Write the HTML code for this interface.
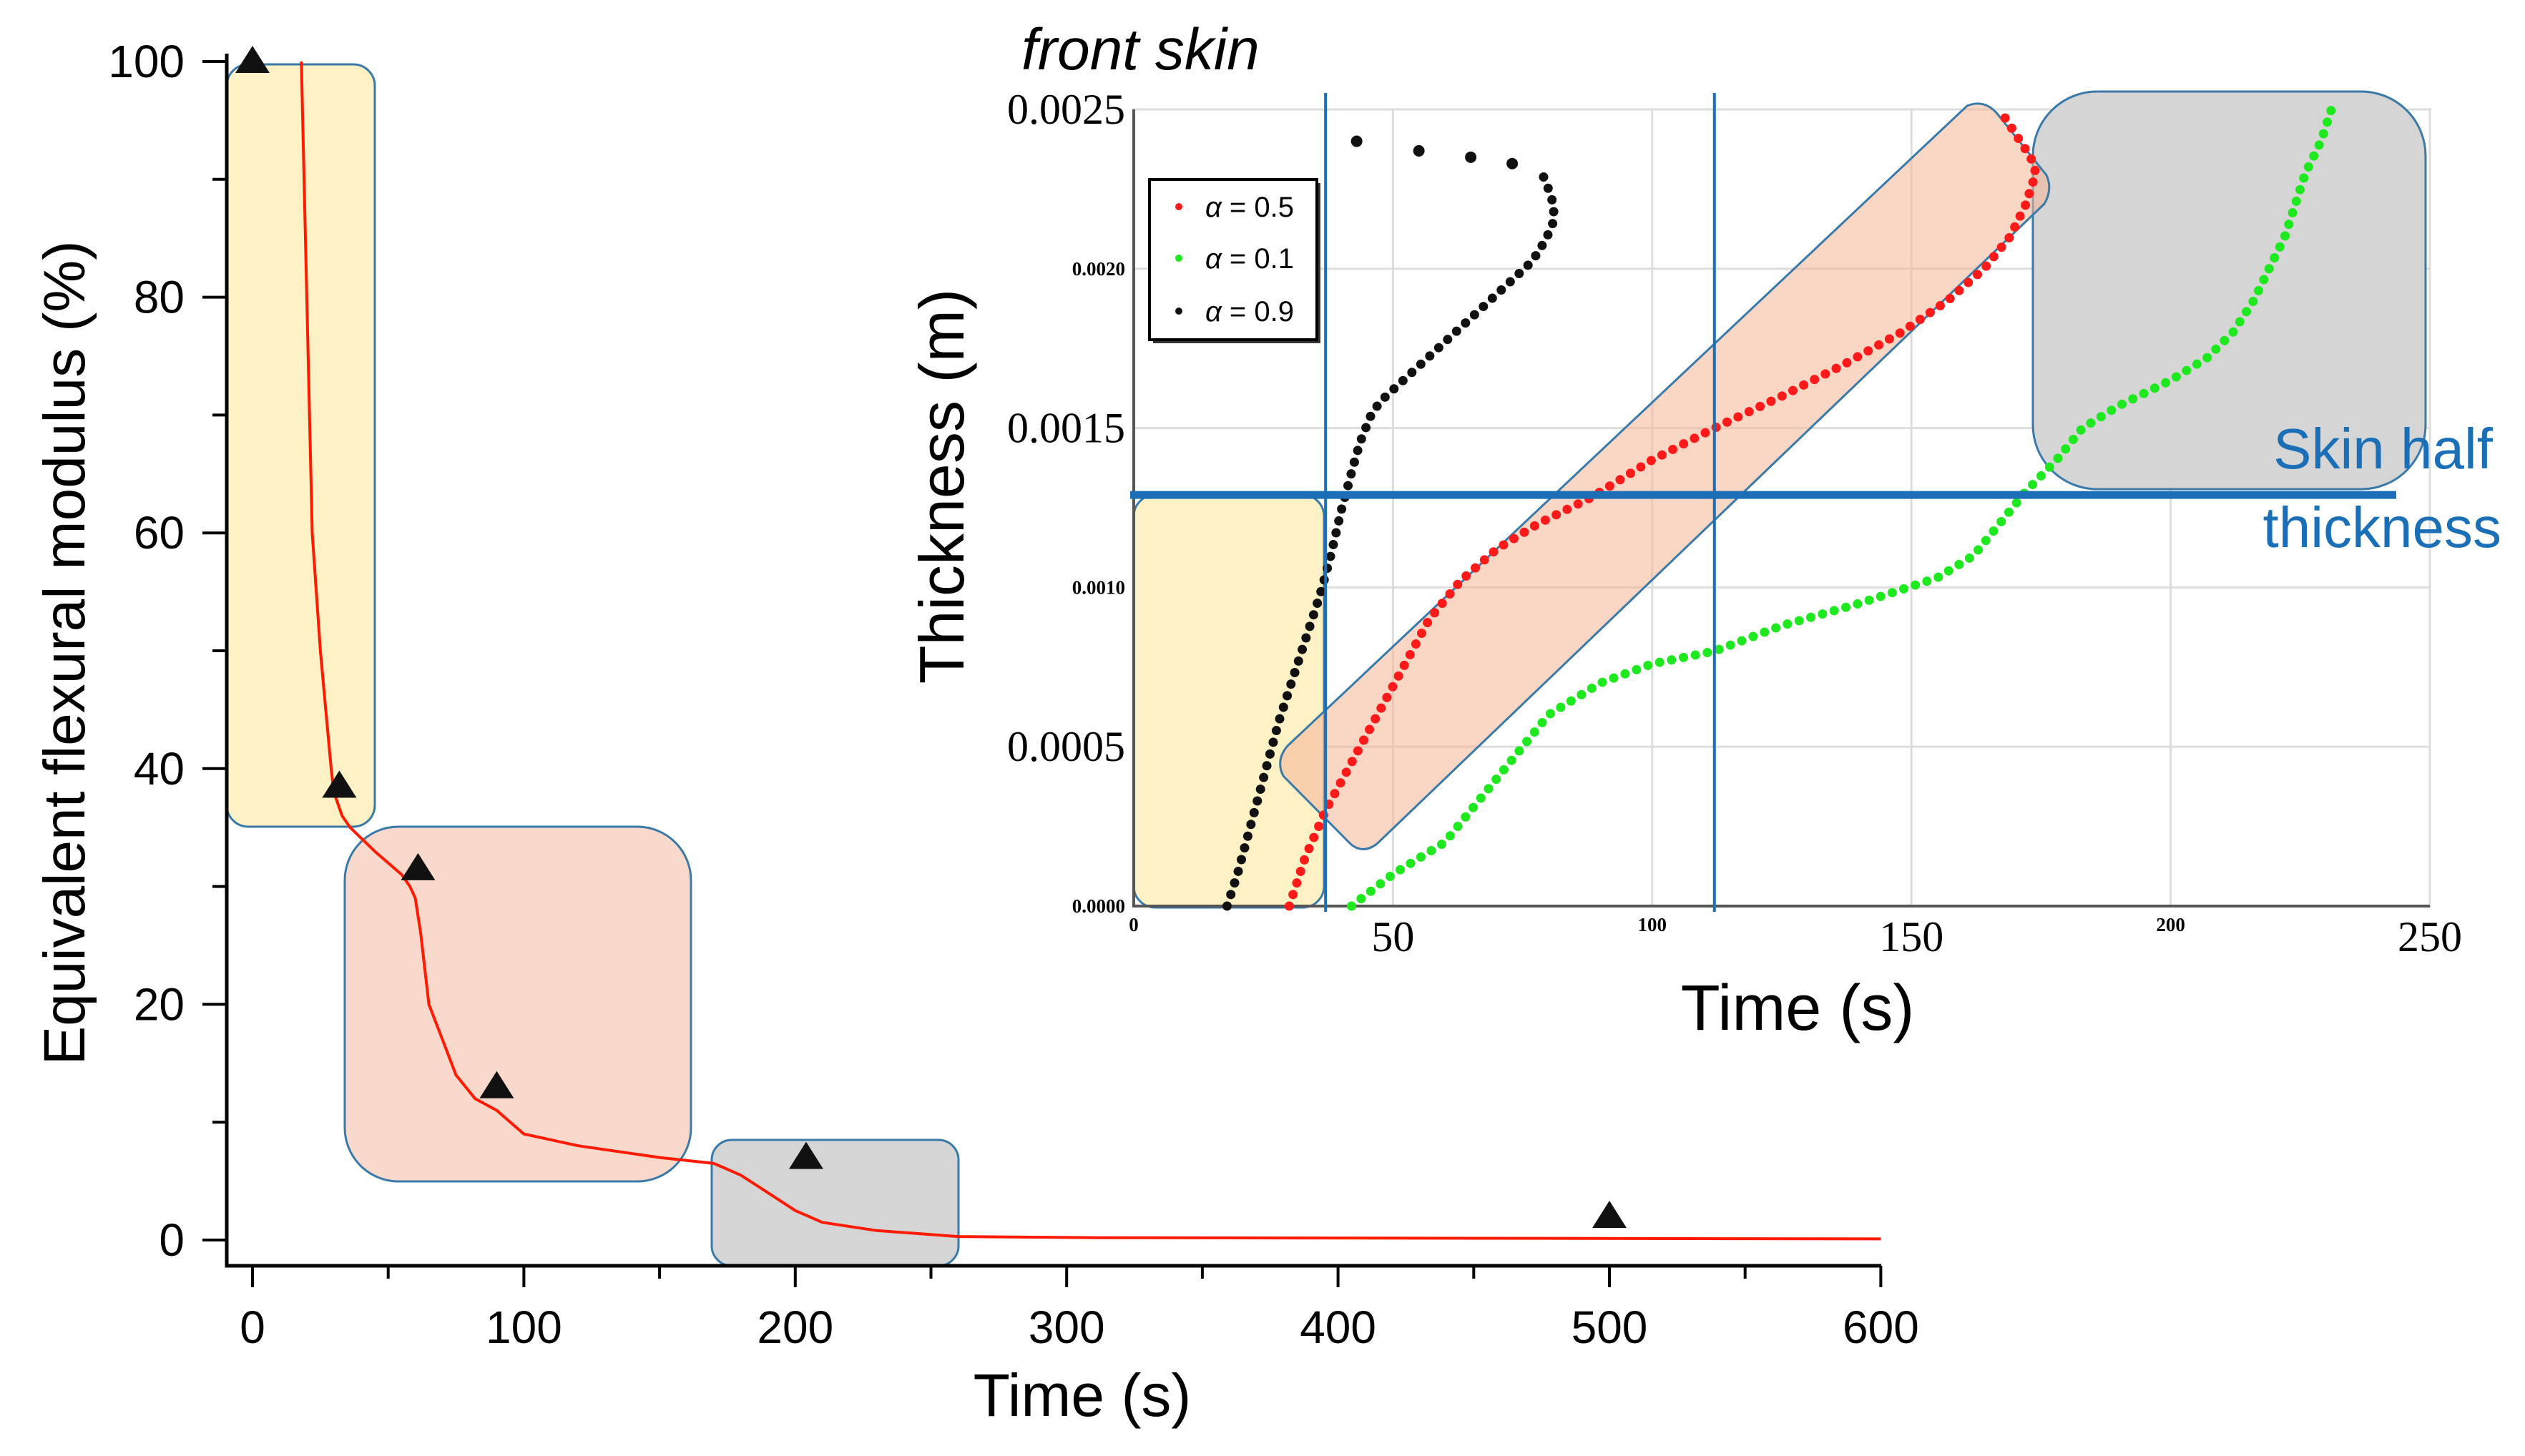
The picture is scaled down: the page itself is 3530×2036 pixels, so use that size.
<!DOCTYPE html>
<html><head><meta charset="utf-8"><style>
html,body{margin:0;padding:0;background:#fff}
svg{display:block}
text{font-family:"Liberation Sans",sans-serif}
.serif{font-family:"Liberation Serif",serif}
</style></head><body>
<svg id="chart" width="3530" height="2036" viewBox="0 0 3530 2036" xmlns="http://www.w3.org/2000/svg">
<g id="main"></g>
<g id="inset"></g>
</svg>
<script>
// ---- main chart data ----
const mainTimes = [18,19,20,22,25,27,29,30,33,36,45,55,58,60,62,65,70,75,82,90,100,120,150,170,175,180,190,200,210,230,260,310,600];
const mainModulus = [100,90,80,60,50,45,40,38,36,35,33,31,30,29,26,20,17,14,12,11,9,8,7,6.5,6,5.5,4,2.5,1.5,0.8,0.3,0.2,0.1];
const triTimes = [0,32,61,90,204,500];
const triValues = [100,38.5,31.5,13,7,2];
const mainXTicks = [0,100,200,300,400,500,600];
const mainYTicks = [0,20,40,60,80,100];
// ---- inset data ----
const blackT = [18,19,20,21,22,23,24,25,26,27,28,29,30,31,32,33,34,35,36,37,38,39,40,41,42,43,44,45,46,48,50,52,54,56,58,60,62,64,66,68,70,72,74,76,78,79,80,81,81,80,79];
const blackV = [0,0.00005,0.0001,0.00016,0.00022,0.00028,0.00034,0.0004,0.00046,0.00052,0.00058,0.00063,0.00068,0.00073,0.00078,0.00083,0.00088,0.00093,0.00098,0.00104,0.0011,0.00117,0.00124,0.0013,0.00136,0.00142,0.00147,0.00151,0.00155,0.00159,0.00162,0.00165,0.00168,0.00171,0.00174,0.00177,0.0018,0.00183,0.00186,0.00189,0.00192,0.00195,0.00198,0.00201,0.00205,0.00208,0.00211,0.00215,0.0022,0.00225,0.00229];
const blackTopT = [43,55,65,73];
const blackTopV = [0.0024,0.00237,0.00235,0.00233];
const redT = [30,33,37,42,47,52,57,63,70,78,88,100,112,125,137,148,157,164,169,172,174,173,171,169,167];
const redV = [0,0.00015,0.0003,0.00045,0.0006,0.00075,0.0009,0.00102,0.00112,0.0012,0.00128,0.0014,0.0015,0.0016,0.0017,0.0018,0.0019,0.002,0.0021,0.0022,0.0023,0.00235,0.0024,0.00245,0.0025];
const greenT = [42,50,60,70,80,90,100,112,125,140,155,162,167,172,178,183,190,200,207,212,216,219,222,224,226,229,231];
const greenV = [0,0.0001,0.0002,0.0004,0.0006,0.0007,0.00076,0.0008,0.00088,0.00095,0.00103,0.0011,0.0012,0.0013,0.0014,0.0015,0.00157,0.00165,0.00172,0.0018,0.0019,0.002,0.0021,0.0022,0.0023,0.0024,0.0025];
const insetYTicks = [0,0.0005,0.001,0.0015,0.002,0.0025];
const insetYLabels = ["0.0000","0.0005","0.0010","0.0015","0.0020","0.0025"];
const insetXTicks = [0,50,100,150,200,250];
const vLines = [37,112];
const skinHalf = 0.00129;

const NS="http://www.w3.org/2000/svg";
function mk(tag, attrs, parent, txt){const e=document.createElementNS(NS,tag);for(const k in attrs)e.setAttribute(k,attrs[k]);if(txt!==undefined)e.textContent=txt;parent.appendChild(e);return e;}
const mx=t=>353+t*3.794, my=v=>1734-v*16.48;
const ix=t=>1585+t*7.248, iy=v=>1267-v/0.0025*1114;
const G=document.getElementById('main'), I=document.getElementById('inset');

let b;
b=mk('rect',{x:317,y:90,width:207,height:1066,rx:30,fill:'#fdf1c5',stroke:'#3a7aa8','stroke-width':3},G);


b=mk('rect',{x:482,y:1156,width:484,height:496,rx:75,fill:'#f9d9cb',stroke:'#3a7aa8','stroke-width':3},G);


b=mk('rect',{x:995,y:1594,width:345,height:176,rx:28,fill:'#d5d5d5',stroke:'#3a7aa8','stroke-width':3},G);



let a=mk('path',{d:'M317 75 V1770 H2630',fill:'none',stroke:'#000','stroke-width':5},G);


for(let v=0;v<=100;v+=10){const l=mk('line',{x1:(v%20===0?283:297),x2:317,y1:my(v),y2:my(v),stroke:'#000','stroke-width':4},G);

}
for(let t=0;t<=600;t+=50){const l=mk('line',{x1:mx(t),x2:mx(t),y1:1770,y2:(t%100===0?1800:1788),stroke:'#000','stroke-width':4},G);

}
mainYTicks.forEach(v=>{const e=mk('text',{x:258,y:my(v)+22,'font-size':64,'text-anchor':'end'},G,String(v));

});
mainXTicks.forEach(t=>{const e=mk('text',{x:mx(t),y:1878,'font-size':64,'text-anchor':'middle'},G,String(t));

});
let tt=mk('text',{x:1513,y:1980,'font-size':84,'text-anchor':'middle'},G,'Time (s)');


tt=mk('text',{x:0,y:0,'font-size':82,'text-anchor':'middle',transform:'translate(118,913) rotate(-90)'},G,'Equivalent flexural modulus (%)');


let d=mainTimes.map((t,i)=>(i?'L':'M')+mx(t).toFixed(1)+' '+my(mainModulus[i]).toFixed(1)).join(' ');
let c=mk('path',{d:d,fill:'none',stroke:'#ff1a00','stroke-width':4,'stroke-linejoin':'round'},G);


triTimes.forEach((t,i)=>{const x=mx(t),y=my(triValues[i]);const p=mk('polygon',{points:`${x-24},${y+16} ${x+24},${y+16} ${x},${y-22}`,fill:'#111'},G);

});

// ---- inset ----
b=mk('rect',{x:ix(0),y:iy(0.0025),width:ix(250)-ix(0),height:iy(0)-iy(0.0025),fill:'#fff',stroke:'#bbb','stroke-width':3},I);


insetYTicks.forEach(v=>{const l=mk('line',{x1:ix(0),x2:ix(250),y1:iy(v),y2:iy(v),stroke:'#ddd','stroke-width':3},I);

});
insetXTicks.forEach(t=>{const l=mk('line',{x1:ix(t),x2:ix(t),y1:iy(0),y2:iy(0.0025),stroke:'#ddd','stroke-width':3},I);

});
b=mk('rect',{x:ix(0),y:692,width:266,height:577,rx:30,fill:'#fdf1c5',stroke:'#3a7aa8','stroke-width':3},I);


b=mk('rect',{x:2842,y:128,width:549,height:556,rx:90,fill:'#d5d5d5',stroke:'#3a7aa8','stroke-width':3},I);


b=mk('path',{d:'M1800 1043 L2750 148 Q2775 138 2793 160 L2861 245 Q2870 265 2858 285 L1925 1180 Q1905 1195 1888 1180 L1794 1085 Q1783 1063 1800 1043 Z',fill:'rgba(245,180,150,0.55)',stroke:'#3a7aa8','stroke-width':3},I);


a=mk('path',{d:`M${ix(0)} ${iy(0.0025)} V${iy(0)} H${ix(250)}`,fill:'none',stroke:'#555','stroke-width':4},I);


function series(T,V,col,name){
 const dd=T.map((t,i)=>(i?'L':'M')+ix(t).toFixed(1)+' '+iy(V[i]).toFixed(1)).join(' ');
 const p=mk('path',{d:dd,fill:'none',stroke:col,'stroke-width':13,'stroke-linecap':'round','stroke-dasharray':'0 17'},I);
 
 
}
series(blackT,blackV,'#111','alpha-0.9-series');
blackTopT.forEach((t,i)=>{const e=mk('circle',{cx:ix(t),cy:iy(blackTopV[i]),r:8,fill:'#111'},I);

});
series(redT,redV,'#ff1a1a','alpha-0.5-series');
series(greenT,greenV,'#1ee81e','alpha-0.1-series');
vLines.forEach(t=>{const l=mk('line',{x1:ix(t),x2:ix(t),y1:130,y2:1275,stroke:'#1a6fb7','stroke-width':4},I);

});
let hl=mk('line',{x1:1580,x2:3350,y1:iy(skinHalf),y2:iy(skinHalf),stroke:'#1a6fb7','stroke-width':11},I);


insetYTicks.forEach((v,i)=>{const big=i%2===1;const e=mk('text',{class:'serif',x:ix(0)-12,y:iy(v)+(big?20:9),'font-size':big?60:27,'font-weight':big?'normal':'bold','text-anchor':'end'},I,insetYLabels[i]);

});
insetXTicks.forEach((t,i)=>{const big=i%2===1;const e=mk('text',{class:'serif',x:ix(t),y:big?1330:1302,'font-size':big?60:27,'font-weight':big?'normal':'bold','text-anchor':'middle'},I,String(t));

});
tt=mk('text',{x:2513,y:1440,'font-size':90,'text-anchor':'middle'},I,'Time (s)');


tt=mk('text',{x:0,y:0,'font-size':88,'text-anchor':'middle',transform:'translate(1347,680) rotate(-90)'},I,'Thickness (m)');


tt=mk('text',{x:1428,y:97,'font-size':82,'font-style':'italic'},I,'front skin');


tt=mk('text',{x:3485,y:655,'font-size':80,'text-anchor':'end',fill:'#1a6fb7'},I,'Skin half');


tt=mk('text',{x:3497,y:765,'font-size':80,'text-anchor':'end',fill:'#1a6fb7'},I,'thickness');


const lg=mk('g',{},I);


mk('rect',{x:1612,y:256,width:234,height:224,fill:'#333'},lg);
mk('rect',{x:1607,y:251,width:234,height:224,fill:'#fff',stroke:'#000','stroke-width':4},lg);
[['0.5','#ff1a1a',289],['0.1','#1ee81e',361],['0.9','#111',435]].forEach(e=>{
 const en=mk('g',{},lg);
 
 
 mk('circle',{cx:1648,cy:e[2],r:5,fill:e[1]},en);
 const t=mk('text',{x:1685,y:e[2]+14,'font-size':40},en);
 mk('tspan',{'font-style':'italic'},t,'α');
 mk('tspan',{},t,' = '+e[0]);
});
</script>
</body></html>
